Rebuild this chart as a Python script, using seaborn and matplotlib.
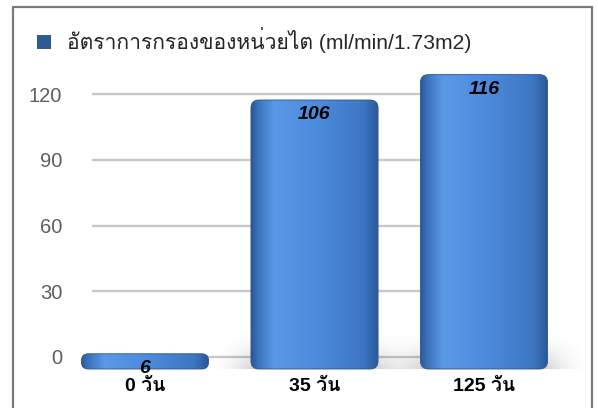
import matplotlib
matplotlib.use("Agg")
import numpy as np
import pandas as pd
import matplotlib.pyplot as plt
import seaborn as sns
from matplotlib import font_manager
from matplotlib.ft2font import FT2Font
from matplotlib.patches import FancyBboxPatch, Patch
from matplotlib.lines import Line2D
from matplotlib.colors import LinearSegmentedColormap
import matplotlib.patheffects as pe

# ---- data ----
categories = ["0 วัน", "35 วัน", "125 วัน"]
gfr_values = [6, 106, 116]
series_name = "อัตราการกรองของหน่วยไต (ml/min/1.73m2)"
y_ticks = [0, 30, 60, 90, 120]


def find_thai_family():
    """Return (family name, has_bold) for an installed font covering Thai."""
    preferred = ["Noto Sans Thai", "Noto Sans Thai UI", "Noto Sans Thai Looped",
                 "Loma", "Garuda", "Umpush", "Tlwg Typo", "Sawasdee", "Laksaman",
                 "Norasi", "Kinnari", "Waree", "Purisa"]
    weights = {}
    for f in font_manager.fontManager.ttflist:
        try:
            cmap = FT2Font(f.fname).get_charmap()
        except Exception:
            continue
        if 0x0E2D in cmap and 0x0E31 in cmap and 0x0E19 in cmap:
            w = f.weight if isinstance(f.weight, int) else 400
            if isinstance(f.weight, str):
                w = 700 if "bold" in f.weight.lower() else 400
            weights.setdefault(f.name, set()).add(w)
    if not weights:
        return None, False
    ordered = [n for n in preferred if n in weights] + sorted(weights)
    for n in ordered:
        if any(w >= 600 for w in weights[n]):
            return n, True
    return ordered[0], False


sns.set_theme(style="white")
thai, thai_bold = find_thai_family()
families = ["Liberation Sans"] + ([thai] if thai else []) + ["DejaVu Sans"]
plt.rcParams["font.family"] = families

W_PX, H_PX = 598, 408
fig = plt.figure(figsize=(W_PX / 100, H_PX / 100), dpi=100)
fig.patch.set_facecolor("white")

# vertical extent shared by the back wall and the column plane (pixels from top)
top_px, bot_px = 60, 372


def fig_rect(left_px, right_px):
    return [left_px / W_PX, 1 - bot_px / H_PX,
            (right_px - left_px) / W_PX, (bot_px - top_px) / H_PX]


# ---- back wall: gridlines and value axis ----
back = fig.add_axes(fig_rect(92, 545))
zero_px, step_px = 357, (357 - 94) / 120
back.set_ylim(-(bot_px - zero_px) / step_px, (zero_px - top_px) / step_px)
back.set_xlim(0, 1)
back.set_yticks(y_ticks)
back.set_yticklabels([str(t) for t in y_ticks], fontsize=14.5, color="#5E5E5E")
back.tick_params(axis="y", length=0, pad=21.5)
back.set_xticks([])
for t in y_ticks:
    back.axhline(t, color="#C8C8C8", lw=1.7, zorder=1)
for s in back.spines.values():
    s.set_visible(False)
back.patch.set_alpha(0)

# ---- column plane ----
front = fig.add_axes(fig_rect(20, 590))
front.patch.set_alpha(0)
df = pd.DataFrame({"day": categories, "gfr": gfr_values})
sns.barplot(data=df, x="day", y="gfr", ax=front, width=0.75,
            color="#4A86D6", saturation=1, errorbar=None)

base_px = 369
px_per_unit = (base_px - 100) / 106
x_center0, x_step = 145, 169.5
xlim = ((20 - x_center0) / x_step, (590 - x_center0) / x_step)
ylim = (-(bot_px - base_px) / px_per_unit, (base_px - top_px) / px_per_unit)

bar_cmap = LinearSegmentedColormap.from_list(
    "col", [(0.0, "#2A5794"), (0.05, "#3A70BA"), (0.18, "#5A99E6"),
            (0.5, "#4D8CDD"), (0.88, "#3E77C3"), (1.0, "#2B5896")])
grad = np.linspace(0, 1, 256)[None, :]
asp = x_step / px_per_unit
radius_x = 8 / x_step

for i, (p, v) in enumerate(zip(list(front.patches), gfr_values)):
    x, w = p.get_x(), p.get_width()
    y0, h = p.get_y(), p.get_height()
    p.set_visible(False)
    r = min(radius_x, 0.45 * h / asp)
    # soft floor shadow around the foot of tall columns
    if h > 20:
        pad = 0.26
        sx = np.linspace(x - pad, x + w + pad, 200)
        dist = np.clip(np.maximum(x - sx, sx - (x + w)), 0, None) / pad
        fall_x = np.clip(1 - dist, 0, 1) ** 1.8
        fall_y = np.linspace(1, 0, 80)[:, None] ** 1.6
        shadow = np.zeros((80, 200, 4))
        shadow[..., 3] = 0.17 * fall_y * fall_x[None, :]
        front.imshow(shadow, extent=(x - pad, x + w + pad, y0, y0 + 16),
                     origin="lower", aspect="auto", zorder=2,
                     interpolation="bilinear")
    box = FancyBboxPatch((x, y0), w, h,
                         boxstyle=f"round,pad=0,rounding_size={r}",
                         mutation_aspect=asp, transform=front.transData,
                         facecolor="none", edgecolor="#2A5590", lw=0.6, zorder=4)
    front.add_patch(box)
    im = front.imshow(grad, extent=(x, x + w, y0, y0 + h), cmap=bar_cmap,
                      aspect="auto", origin="lower", zorder=3,
                      interpolation="bicubic")
    im.set_clip_path(box)
    front.annotate(f"{v}", xy=(i, v), xytext=(0, -10.5), textcoords="offset points",
                   ha="center", va="center", fontsize=14, fontweight="bold",
                   fontstyle="italic", color="black", zorder=6)

front.set_xlim(*xlim)
front.set_ylim(*ylim)
front.set_xticks(range(len(categories)))
front.set_xticklabels(categories, fontsize=14, fontweight="bold", color="black")
if not thai_bold:
    for lab in front.get_xticklabels():
        lab.set_path_effects([pe.withStroke(linewidth=0.8, foreground="black")])
front.tick_params(axis="x", length=0, pad=4)
front.set_yticks([])
front.set_xlabel("")
front.set_ylabel("")
for s in front.spines.values():
    s.set_visible(False)

# ---- legend ----
fig.legend(handles=[Patch(facecolor="#2F5B93", edgecolor="none")],
           labels=[series_name], loc="center left",
           bbox_to_anchor=(37 / W_PX, 1 - 40 / H_PX),
           frameon=False, fontsize=15.2, borderpad=0, borderaxespad=0,
           handlelength=0.64, handleheight=0.64, handletextpad=0.8)

# ---- outer frame ----
fx0, fx1, fy0 = 13 / W_PX, 592 / W_PX, 1 - 7 / H_PX
for xs, ys in [((fx0, fx0), (0, fy0)), ((fx0, fx1), (fy0, fy0)), ((fx1, fx1), (fy0, 0))]:
    fig.add_artist(Line2D(xs, ys, transform=fig.transFigure, color="#7A7A7A", lw=1.6))

fig.savefig("out.png", dpi=100, facecolor="white")
